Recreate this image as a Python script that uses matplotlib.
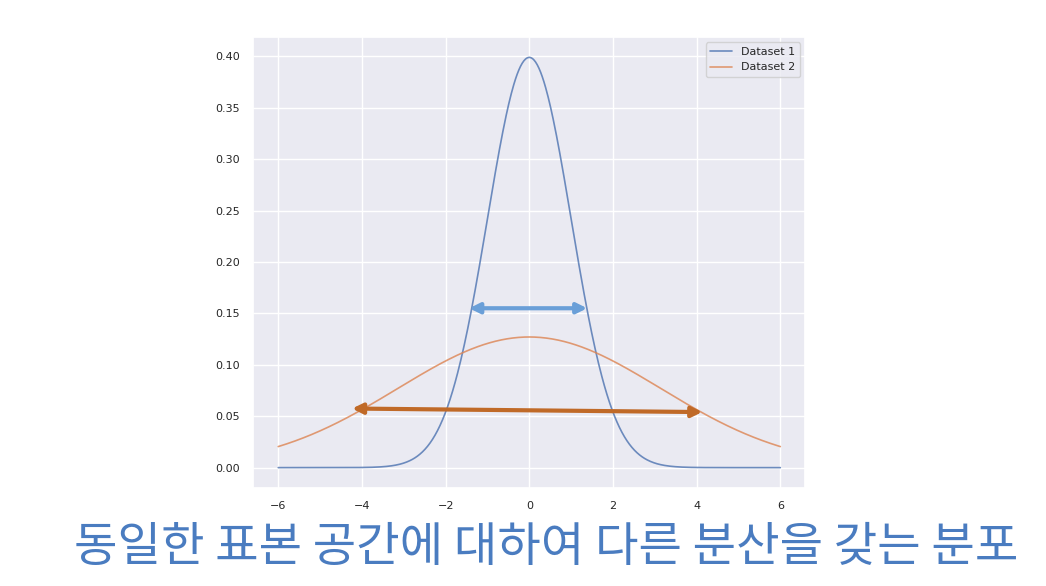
import numpy as np
import matplotlib
matplotlib.use("Agg")
import matplotlib.pyplot as plt
import seaborn as sns

sns.set_theme(style="darkgrid")
plt.rcParams['font.family'] = ['DejaVu Sans', 'Noto Sans CJK KR']

# 분포 파라미터 (평균, 표준편차)
means = [0.0, 0.0]
stds = [1.0, 3.14]
labels = ["Dataset 1", "Dataset 2"]
x_min, x_max = -6, 6

# 화살표 (x 시작, x 끝, y 시작, y 끝)
arrow1 = (-1.5, 1.45, 0.155, 0.155)
arrow2 = (-4.3, 4.2, 0.0575, 0.054)

x = np.linspace(x_min, x_max, 600)

fig = plt.figure(figsize=(10.46, 5.86), dpi=100)
ax = fig.add_axes([0.242, 0.167, 0.528, 0.77])
colors = ["#4c72b0", "#dd8452"]
for m, s, lab, c in zip(means, stds, labels, colors):
    y = np.exp(-0.5 * ((x - m) / s) ** 2) / (s * np.sqrt(2 * np.pi))
    ax.plot(x, y, color=c, label=lab, lw=1.2, alpha=0.8)

ax.set_yticks(np.arange(0, 0.41, 0.05))
ax.tick_params(labelsize=8)
ax.legend(loc="upper right", fontsize=8)

ax.annotate("", xy=(arrow1[1], arrow1[3]), xytext=(arrow1[0], arrow1[2]),
            arrowprops=dict(arrowstyle="<|-|>", color="#6a9fd8", lw=3, mutation_scale=15))
ax.annotate("", xy=(arrow2[1], arrow2[3]), xytext=(arrow2[0], arrow2[2]),
            arrowprops=dict(arrowstyle="<|-|>", color="#c06a28", lw=3, mutation_scale=15))

fig.text(0.522, 0.065, "동일한 표본 공간에 대하여 다른 분산을 갖는 분포",
         ha="center", va="center", fontsize=34, color="#4a7cc0",
         family=['Noto Sans CJK KR', 'DejaVu Sans'])

fig.savefig("out.png", dpi=100, facecolor="white")
